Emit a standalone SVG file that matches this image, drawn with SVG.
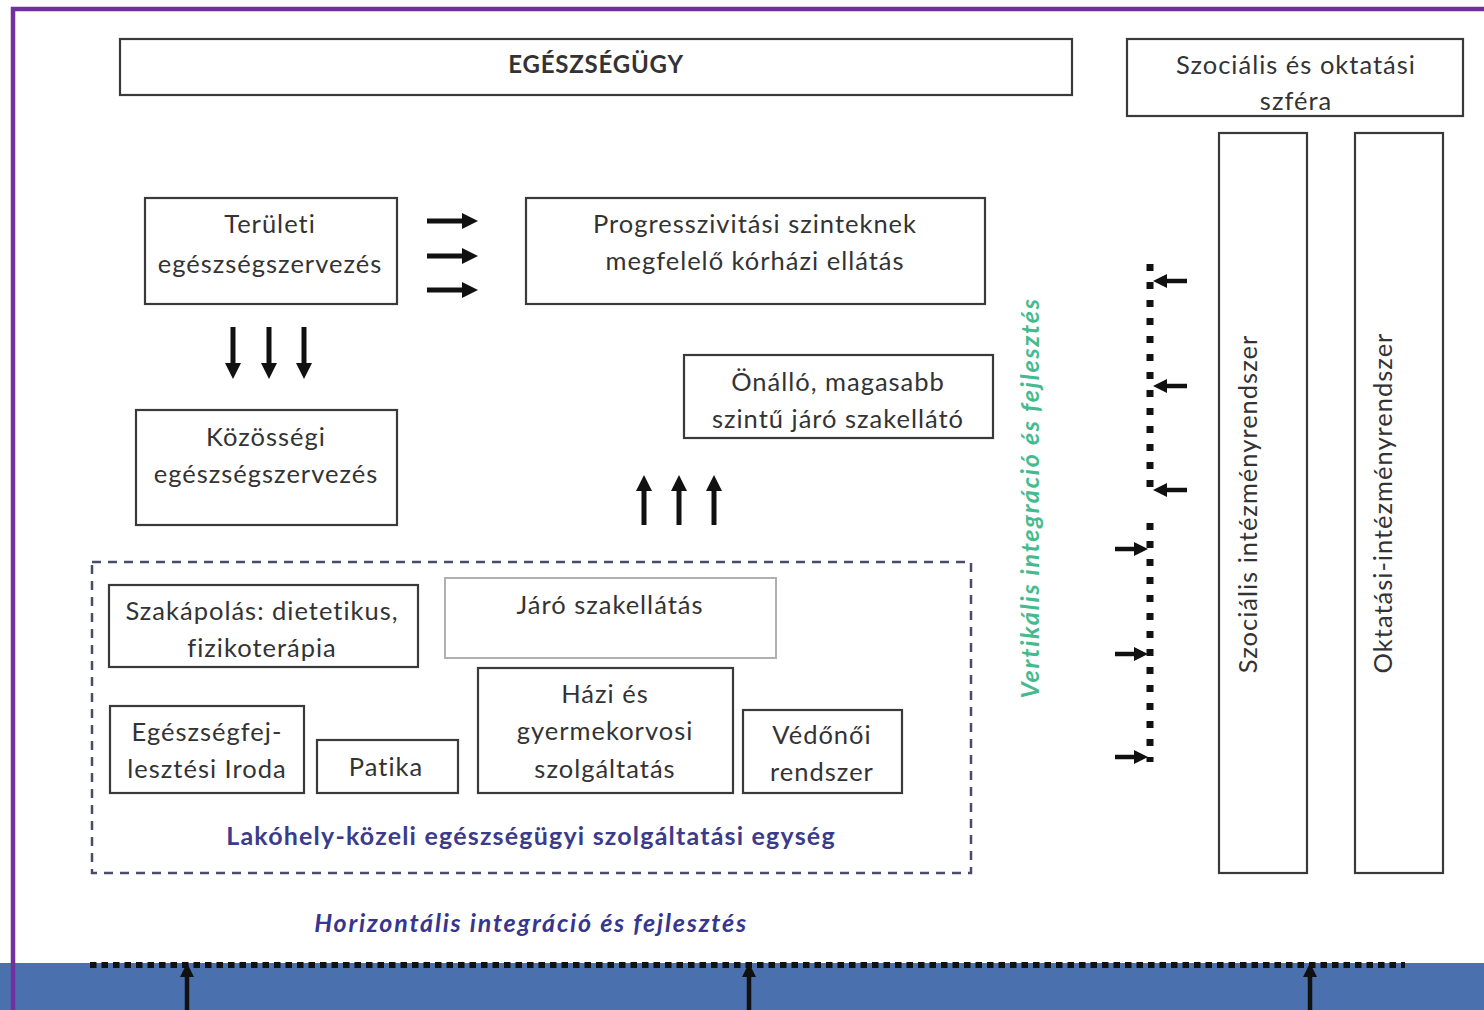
<svg xmlns="http://www.w3.org/2000/svg" width="1484" height="1010" viewBox="0 0 1484 1010">
<style>
.box{fill:#fff;stroke:#3a3a3a;stroke-width:2.2}
.t{font-family:Lato,"Open Sans","Liberation Sans",sans-serif;font-size:25.5px;letter-spacing:1px;fill:#333;text-anchor:middle}
.b{font-weight:bold}
.lab{font-size:25px;letter-spacing:1.2px;fill:#3b3b8c}
.int{font-size:25px;letter-spacing:1.8px;font-style:italic;font-weight:bold}
.arr{stroke:#111;stroke-width:5;fill:none}
.arrs{stroke:#111;stroke-width:4.5;fill:none}
</style>
<defs>
<marker id="ah" markerWidth="17" markerHeight="16" refX="6" refY="8" orient="auto" markerUnits="userSpaceOnUse"><path d="M0,0 L16,8 L0,16 z" fill="#111"/></marker>
<marker id="ahs" markerWidth="15" markerHeight="14" refX="5" refY="7" orient="auto" markerUnits="userSpaceOnUse"><path d="M0,0 L14,7 L0,14 z" fill="#111"/></marker>
</defs>
<rect x="0" y="0" width="1484" height="1010" fill="#fff"/>
<rect x="0" y="963" width="1484" height="47" fill="#4a71ae"/>
<path d="M13,1010 V9 H1484" fill="none" stroke="#7030a0" stroke-width="4.5"/>

<g id="egeszsegugy"><rect class="box" x="120" y="39" width="952" height="56"/><text class="t b" x="596" y="73" style="font-size:24px;letter-spacing:0.8px">EGÉSZSÉGÜGY</text></g>
<g id="szocialis-szfera"><rect class="box" x="1127" y="39" width="336" height="77"/><text class="t" x="1296" y="74">Szociális és oktatási</text><text class="t" x="1296" y="110">szféra</text></g>
<g id="szocialis-intezmeny"><rect class="box" x="1219" y="133" width="88" height="740"/><text class="t" transform="translate(1257,504) rotate(-90)">Szociális intézményrendszer</text></g>
<g id="oktatasi-intezmeny"><rect class="box" x="1355" y="133" width="88" height="740"/><text class="t" transform="translate(1392,503) rotate(-90)">Oktatási-intézményrendszer</text></g>

<g id="teruleti"><rect class="box" x="145" y="198" width="252" height="106"/><text class="t" x="270" y="233">Területi</text><text class="t" x="270" y="273">egészségszervezés</text></g>
<g id="progresszivitasi"><rect class="box" x="526" y="198" width="459" height="106"/><text class="t" x="755" y="233">Progresszivitási szinteknek</text><text class="t" x="755" y="270">megfelelő kórházi ellátás</text></g>
<g id="kozossegi"><rect class="box" x="136" y="410" width="261" height="115"/><text class="t" x="266" y="446">Közösségi</text><text class="t" x="266" y="483">egészségszervezés</text></g>
<g id="onallo"><rect class="box" x="684" y="355" width="309" height="83"/><text class="t" x="838" y="391">Önálló, magasabb</text><text class="t" x="838" y="428">szintű járó szakellátó</text></g>

<g id="lakohely"><rect x="92" y="562" width="879" height="311" fill="none" stroke="#4b4b6b" stroke-width="2.5" stroke-dasharray="9,7"/><text class="t b lab" x="531" y="845">Lakóhely-közeli egészségügyi szolgáltatási egység</text></g>
<g id="szakapolas"><rect class="box" x="109" y="585" width="309" height="82"/><text class="t" x="262" y="620">Szakápolás: dietetikus,</text><text class="t" x="262" y="657">fizikoterápia</text></g>
<g id="jaro"><rect x="445" y="578" width="331" height="80" fill="#fff" stroke="#b0b0b0" stroke-width="2"/><text class="t" x="610" y="614">Járó szakellátás</text></g>
<g id="egeszsegfejlesztesi"><rect class="box" x="110" y="706" width="194" height="87"/><text class="t" x="207" y="741">Egészségfej-</text><text class="t" x="207" y="778">lesztési Iroda</text></g>
<g id="patika"><rect class="box" x="317" y="740" width="141" height="53"/><text class="t" x="386" y="776">Patika</text></g>
<g id="hazi"><rect class="box" x="478" y="668" width="255" height="125"/><text class="t" x="605" y="703">Házi és</text><text class="t" x="605" y="740">gyermekorvosi</text><text class="t" x="605" y="778">szolgáltatás</text></g>
<g id="vedonoi"><rect class="box" x="743" y="710" width="159" height="83"/><text class="t" x="822" y="744">Védőnői</text><text class="t" x="822" y="781">rendszer</text></g>

<g id="horizontalis"><text class="t int" x="531" y="932" style="fill:#36368e">Horizontális integráció és fejlesztés</text></g>
<g id="vertikalis"><text class="t int" transform="translate(1039,498) rotate(-90)" style="fill:#44bb8e">Vertikális integráció és fejlesztés</text></g>

<g id="connectors">
<line class="arr" x1="427" y1="221" x2="468" y2="221" marker-end="url(#ah)"/>
<line class="arr" x1="427" y1="256" x2="468" y2="256" marker-end="url(#ah)"/>
<line class="arr" x1="427" y1="290" x2="468" y2="290" marker-end="url(#ah)"/>
<line class="arr" x1="233" y1="327" x2="233" y2="369" marker-end="url(#ah)"/>
<line class="arr" x1="269" y1="327" x2="269" y2="369" marker-end="url(#ah)"/>
<line class="arr" x1="304" y1="327" x2="304" y2="369" marker-end="url(#ah)"/>
<line class="arr" x1="644" y1="525" x2="644" y2="485" marker-end="url(#ah)"/>
<line class="arr" x1="679" y1="525" x2="679" y2="485" marker-end="url(#ah)"/>
<line class="arr" x1="714" y1="525" x2="714" y2="485" marker-end="url(#ah)"/>
<line x1="1150" y1="264" x2="1150" y2="497" stroke="#111" stroke-width="7" stroke-dasharray="7,11"/>
<line x1="1150" y1="523" x2="1150" y2="762" stroke="#111" stroke-width="7" stroke-dasharray="7,11"/>
<line class="arrs" x1="1187" y1="281" x2="1162" y2="281" marker-end="url(#ahs)"/>
<line class="arrs" x1="1187" y1="386" x2="1162" y2="386" marker-end="url(#ahs)"/>
<line class="arrs" x1="1187" y1="490" x2="1162" y2="490" marker-end="url(#ahs)"/>
<line class="arrs" x1="1115" y1="549" x2="1139" y2="549" marker-end="url(#ahs)"/>
<line class="arrs" x1="1115" y1="654" x2="1139" y2="654" marker-end="url(#ahs)"/>
<line class="arrs" x1="1115" y1="757" x2="1139" y2="757" marker-end="url(#ahs)"/>
<line x1="90" y1="965" x2="1405" y2="965" stroke="#111" stroke-width="6" stroke-dasharray="6.5,5"/>
<line class="arrs" x1="187" y1="1010" x2="187" y2="972" marker-end="url(#ahs)"/>
<line class="arrs" x1="749" y1="1010" x2="749" y2="972" marker-end="url(#ahs)"/>
<line class="arrs" x1="1310" y1="1010" x2="1310" y2="972" marker-end="url(#ahs)"/>
</g>
</svg>
